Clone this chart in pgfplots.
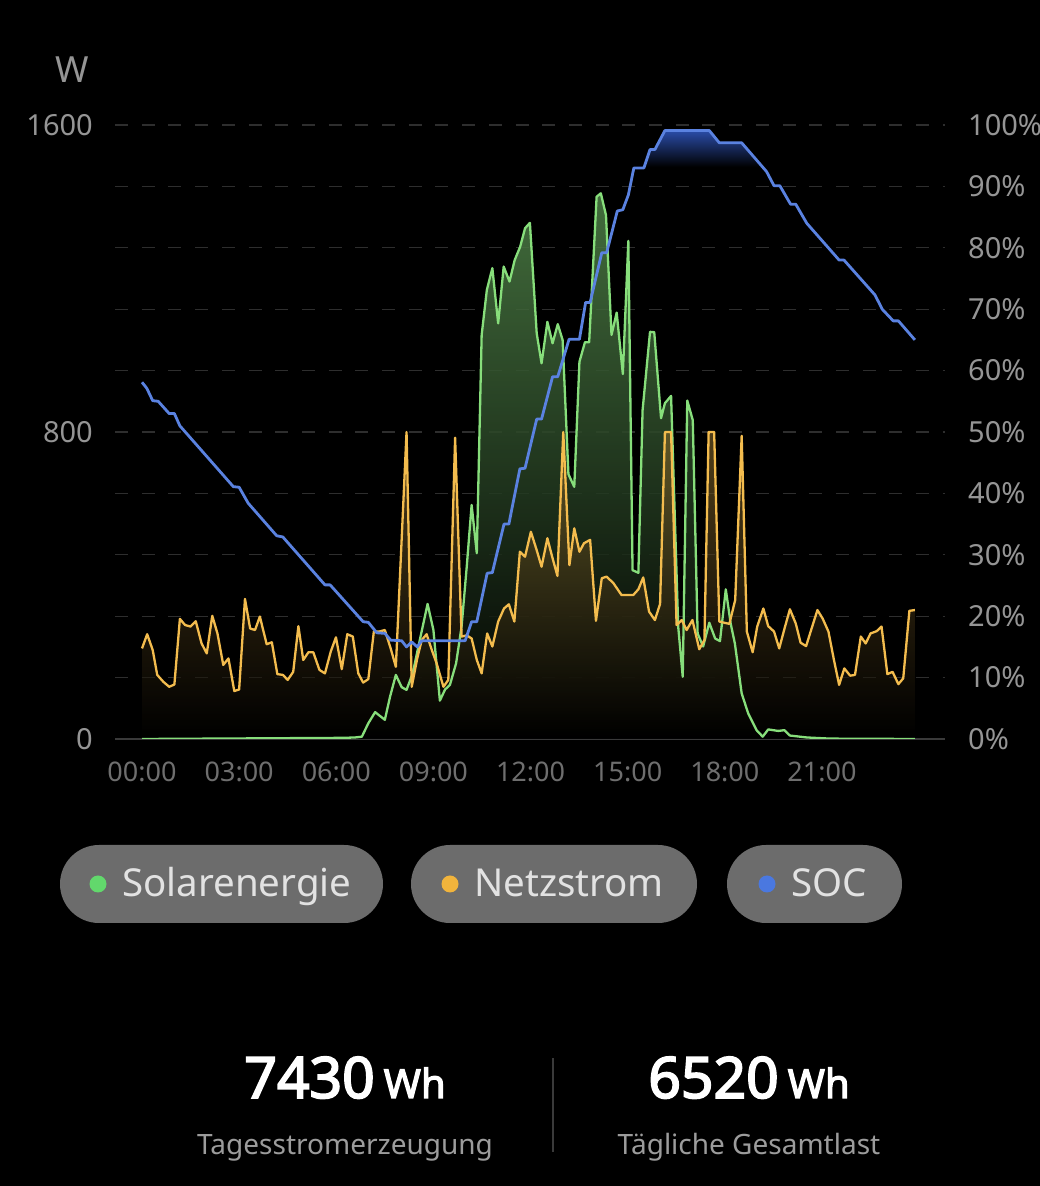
\documentclass[border=0pt]{standalone}
\usepackage{fontspec}
\setmainfont{Noto Sans}
\newfontfamily\boldfont{Noto Sans}[FakeBold=3]
\usepackage{pgfplots}
\pgfplotsset{compat=1.18}
\usepackage{pgfplotstable}
\definecolor{solar}{HTML}{87DE7B}
\definecolor{netz}{HTML}{F3BC4E}
\definecolor{soc}{HTML}{5A82E0}
\definecolor{gridc}{HTML}{2E2E2E}
\definecolor{axc}{HTML}{3A3A3A}
\definecolor{tickc}{HTML}{959595}
\definecolor{xtickc}{HTML}{6E6E6E}
\definecolor{pill}{HTML}{6C6C6C}
\definecolor{pilltext}{HTML}{E2E2E2}
\definecolor{subtext}{HTML}{9C9C9C}
\definecolor{solardot}{HTML}{62D86C}
\definecolor{netzdot}{HTML}{F1B43C}
\definecolor{socdot}{HTML}{4A78E0}
\definecolor{glow}{HTML}{2A4CA8}
\pgfdeclareverticalshading{socglow}{100bp}{color(0bp)=(black); color(72bp)=(black); color(75bp)=(glow); color(100bp)=(glow)}

\pgfplotstableread{
h w
0 236
0.16 273
0.33 232
0.47 167
0.66 149
0.84 136
1.00 142
1.17 313
1.33 297
1.50 293
1.66 307
1.84 249
2.00 223
2.17 321
2.33 275
2.51 193
2.67 210
2.85 125
3.00 129
3.18 365
3.34 288
3.49 284
3.64 319
3.85 247
4.01 252
4.18 169
4.35 167
4.50 154
4.67 175
4.83 294
4.98 206
5.14 226
5.29 226
5.48 180
5.65 171
5.83 228
5.99 265
6.17 182
6.34 273
6.51 267
6.68 171
6.83 147
6.99 156
7.16 280
7.33 280
7.50 284
7.68 236
7.84 188
8.17 800
8.33 136
8.50 210
8.64 258
8.79 273
8.95 232
9.10 197
9.31 136
9.46 154
9.67 785
9.87 267
10.03 270
10.18 262
10.34 206
10.49 171
10.66 275
10.82 241
11.00 306
11.18 340
11.33 351
11.50 306
11.67 488
11.83 475
12.01 540
12.19 492
12.34 449
12.52 523
12.68 471
12.83 425
13.01 800
13.20 453
13.35 549
13.51 488
13.65 510
13.84 519
14.02 308
14.20 419
14.35 423
14.56 406
14.81 375
15.00 375
15.17 375
15.33 390
15.48 421
15.66 332
15.84 310
16.00 352
16.15 800
16.34 800
16.51 297
16.67 310
16.82 284
17.00 310
17.21 234
17.37 258
17.50 800
17.67 800
17.83 306
17.98 303
18.14 300
18.32 362
18.52 790
18.68 280
18.86 226
19.00 293
19.19 340
19.34 294
19.52 280
19.68 236
19.86 293
20.01 338
20.19 301
20.34 251
20.51 242
20.68 288
20.86 336
21.02 314
21.20 280
21.37 206
21.53 141
21.69 184
21.87 165
22.02 167
22.20 267
22.35 249
22.50 275
22.69 281
22.84 293
23.02 169
23.18 175
23.36 143
23.51 158
23.70 334
23.87 336
}\netztab

\pgfplotstableread{
h w
0 0
6.22 3
6.58 4
6.79 6
6.99 41
7.20 70
7.35 60
7.50 50
7.66 110
7.84 167
8.02 135
8.17 128
8.36 171
8.59 262
8.82 352
9.00 284
9.20 100
9.36 129
9.51 141
9.70 197
9.87 293
10.03 450
10.18 610
10.34 484
10.49 1053
10.65 1170
10.82 1227
11.00 1083
11.17 1231
11.35 1192
11.51 1248
11.68 1283
11.83 1331
11.98 1345
12.19 1057
12.34 979
12.52 1087
12.68 1031
12.84 1081
12.99 1040
13.17 690
13.35 657
13.51 983
13.68 1034
13.81 1034
14.04 1413
14.17 1422
14.33 1365
14.50 1053
14.66 1111
14.85 951
15.02 1298
15.15 440
15.33 433
15.46 857
15.69 1061
15.82 1060
16.03 836
16.15 875
16.34 894
16.56 293
16.70 162
16.84 882
17.01 831
17.16 275
17.33 241
17.52 303
17.70 262
17.85 255
18.03 390
18.18 301
18.31 249
18.52 119
18.72 67
18.98 23
19.17 6
19.34 25
19.65 21
19.84 23
20.01 9
20.53 4
21.25 1
23.87 0
}\solartab

\pgfplotstableread{
h p
0 58.1
0.15 57.1
0.33 55.1
0.50 55.0
0.84 53.0
1.00 53.0
1.17 51.0
2.82 41.1
3.00 41.0
3.28 38.4
4.16 33.1
4.35 32.9
5.65 25.1
5.81 25.1
6.83 19.1
6.99 19.0
7.25 17.3
7.50 17.2
7.68 16.1
8.02 16.0
8.17 15.0
8.33 15.8
8.50 15.0
8.64 16.0
9.98 16.0
10.18 19.1
10.34 19.1
10.66 27.0
10.82 27.1
11.18 35.0
11.33 35.0
11.67 44.0
11.83 44.1
12.19 52.1
12.34 52.1
12.68 59.0
12.84 59.0
13.19 65.1
13.51 65.1
13.70 71.1
13.84 71.1
14.20 79.2
14.35 79.2
14.68 86.0
14.85 86.2
15.02 88.6
15.19 93.0
15.50 93.0
15.69 96.0
15.84 96.0
16.15 99.1
17.52 99.1
17.83 97.1
18.52 97.1
19.29 92.4
19.52 90.1
19.70 90.1
20.03 87.1
20.19 87.1
20.53 84.0
21.53 78.0
21.68 78.0
22.64 72.3
22.86 70.0
23.20 68.1
23.36 68.1
23.87 65.0
}\soctab

\pgfplotsset{
  base/.style={
    at={(115pt,447pt)}, anchor=south west, scale only axis,
    width=830pt, height=614pt, xmin=-0.834, xmax=24.8,
    major tick length=0pt,
    /pgf/number format/assume math mode=true,
  }
}

\begin{document}
\begin{tikzpicture}[x=1pt,y=1pt]
\fill[black] (0,0) rectangle (1040,1186);
\useasboundingbox (0,0) rectangle (1040,1186);

% SOC glow beneath everything
\begin{axis}[base, ymin=0, ymax=100, hide axis]
\addplot[draw=none, shading=socglow] table[x=h,y=p] {\soctab} \closedcycle;
\end{axis}

% Main power axis
\begin{axis}[base, ymin=0, ymax=1600,
  axis x line*=bottom, axis y line*=left,
  x axis line style={-, draw=axc, line width=1.5pt},
  y axis line style={draw=none},
  ytick={0,160,...,1600},
  yticklabels={0,,,,,800,,,,,1600},
  ymajorgrids,
  grid style={draw=gridc, line width=1.3pt, dash pattern=on 13pt off 13.7pt},
  xtick={0,3,...,21},
  xticklabels={00:00,03:00,06:00,09:00,12:00,15:00,18:00,21:00},
  yticklabel style={font=\fontsize{29}{29}\selectfont, text=tickc, inner sep=0pt, xshift=-22pt},
  xticklabel style={font=\fontsize{27}{27}\selectfont, text=xtickc, inner sep=0pt, yshift=-23pt},
]
\addplot[draw=none, top color=solar!58!black, bottom color=black, fill opacity=0.85] table[x=h,y=w] {\solartab} \closedcycle;
\addplot[draw=none, top color=netz!55!black, bottom color=black, fill opacity=0.6] table[x=h,y=w] {\netztab} \closedcycle;
\addplot[solar, line width=2.3pt, line join=round] table[x=h,y=w] {\solartab};
\addplot[netz, line width=2.3pt, line join=round] table[x=h,y=w] {\netztab};
\end{axis}

% SOC axis
\begin{axis}[base, ymin=0, ymax=100,
  axis y line*=right, axis x line=none,
  y axis line style={draw=none},
  ytick={0,10,...,100},
  yticklabel={\pgfmathprintnumber{\tick}\%},
  yticklabel style={font=\fontsize{29}{29}\selectfont, text=tickc, inner sep=0pt, xshift=23pt},
]
\addplot[soc, line width=2.8pt, line join=round] table[x=h,y=p] {\soctab};
\end{axis}

% unit label
\node[anchor=base, inner sep=0, text=tickc, font=\fontsize{36}{36}\selectfont] at (72,1103) {W};

% legend pills
\fill[pill, rounded corners=39pt] (60,263) rectangle (383,341);
\fill[solardot] (98,302) circle (8.5);
\node[anchor=base west, inner sep=0, text=pilltext, font=\fontsize{38.5}{38.5}\selectfont] at (122,289) {Solarenergie};
\fill[pill, rounded corners=39pt] (411,263) rectangle (697,341);
\fill[netzdot] (450,302) circle (8.5);
\node[anchor=base west, inner sep=0, text=pilltext, font=\fontsize{38.5}{38.5}\selectfont] at (474,289) {Netzstrom};
\fill[pill, rounded corners=39pt] (727,263) rectangle (902,341);
\fill[socdot] (767,302) circle (8.5);
\node[anchor=base west, inner sep=0, text=pilltext, font=\fontsize{38.5}{38.5}\selectfont] at (791,289) {SOC};

% bottom statistics
\node[anchor=base, inner sep=0, text=white] at (345,88) {\boldfont\fontsize{57}{57}\selectfont 7430\hspace{9pt}\fontsize{40}{40}\selectfont Wh};
\node[anchor=base, inner sep=0, text=subtext, font=\fontsize{28}{28}\selectfont] at (345,31) {Tagesstromerzeugung};
\draw[axc, line width=2pt] (553,34) -- (553,128);
\node[anchor=base, inner sep=0, text=white] at (749,88) {\boldfont\fontsize{57}{57}\selectfont 6520\hspace{9pt}\fontsize{40}{40}\selectfont Wh};
\node[anchor=base, inner sep=0, text=subtext, font=\fontsize{28}{28}\selectfont] at (749,31) {Tägliche Gesamtlast};
\end{tikzpicture}
\end{document}
